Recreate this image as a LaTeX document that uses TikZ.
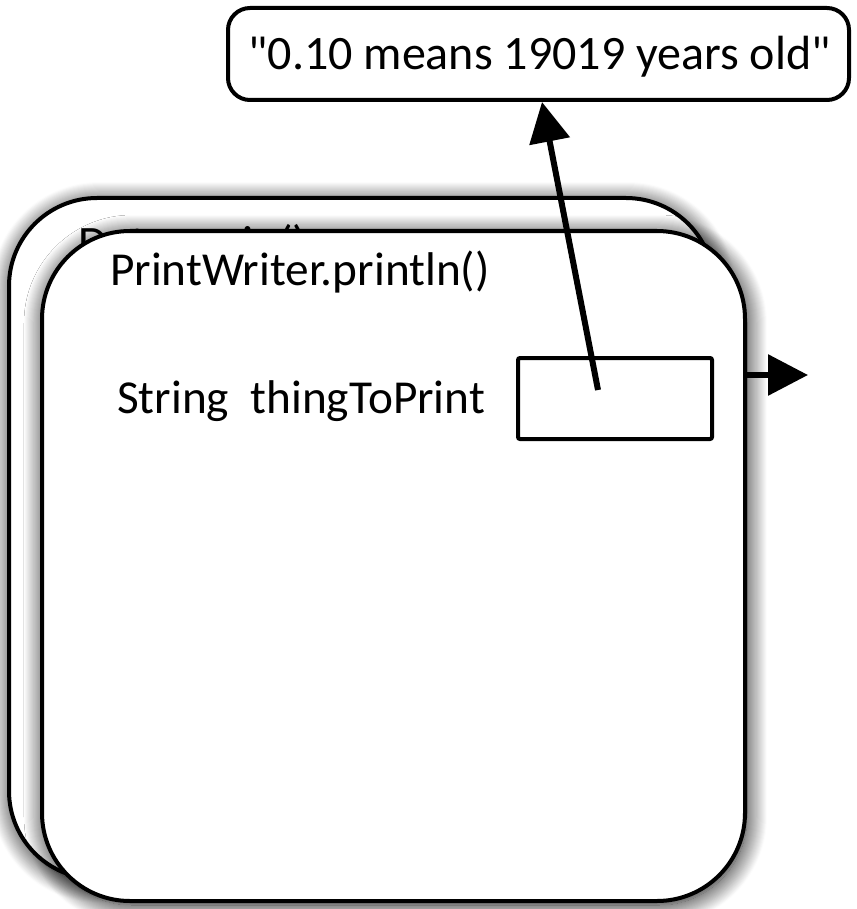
\documentclass[tikz,border=0pt]{standalone}
\usepackage{fontspec}
\setmainfont{Carlito}[Ligatures=TeXOff]
\usetikzlibrary{arrows.meta,shadows.blur}
\begin{document}
\begin{tikzpicture}[x=1pt,y=-1pt,
  frame/.style={draw, line width=4pt, fill=white, rounded corners=88pt, inner sep=0pt,
    blur shadow={shadow xshift=2pt, shadow yshift=-4pt, shadow blur radius=20pt, shadow blur steps=20, shadow opacity=95}},
  lbl/.style={font=\fontsize{47.3}{52}\selectfont, inner sep=0pt, anchor=base west},
  bigtxt/.style={font=\fontsize{48}{52}\selectfont, inner sep=0pt},
  conn/.style={line width=6pt, -{Triangle[length=40pt,width=40pt]}}]
\useasboundingbox (0,0) rectangle (856,909);
% back frame
\node[frame, minimum width=705pt, minimum height=681pt] (back) at (361.5,538.5) {};
\node[bigtxt, anchor=base west] (backlbl) at (78,259) {Data.main()};
% front frame
\node[frame, minimum width=703pt, minimum height=670pt] (front) at (393.5,566) {};
\node[lbl] (title) at (110,285) {PrintWriter.println()};
\node[lbl] (var) at (117,413) {String\ \ thingToPrint};
\node[draw, line width=4pt, rounded corners=2pt, minimum width=194pt, minimum height=81pt, inner sep=0pt] (slot) at (615,398.5) {};
% value box
\node[draw, line width=4pt, rounded corners=22pt, minimum width=621pt, minimum height=92pt, inner sep=0pt, fill=white] (val) at (538.5,54) {};
\node[bigtxt, anchor=base] (valtxt) at (539.5,70) {"0.10 means 19019 years old"};
% connectors
\coordinate (src) at (598,390);
\coordinate (tipA) at (542,102);
\draw[conn] (src) -- (tipA);
\coordinate (outS) at (743,375);
\coordinate (outE) at (808,375);
\draw[conn] (outS) -- (outE);
\end{tikzpicture}
\end{document}
